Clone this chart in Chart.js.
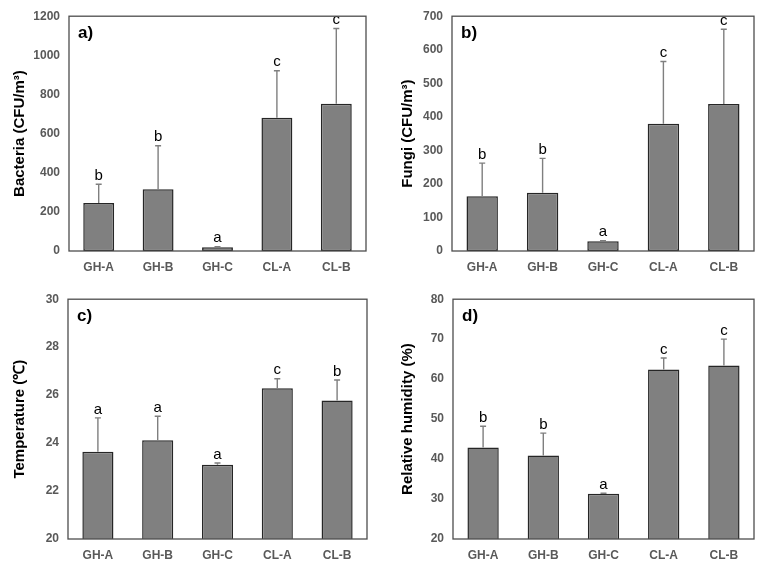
<!DOCTYPE html>
<html>
<head>
<meta charset="utf-8">
<script src="https://cdn.jsdelivr.net/npm/chart.js@4"></script>
<style>
  body { margin: 0; background: #fff; }
  .panel { position: absolute; width: 383px; height: 283px; }
</style>
</head>
<body>
<div class="panel" style="left:0;top:0"><canvas id="chartA"></canvas></div>
<div class="panel" style="left:383px;top:0"><canvas id="chartB"></canvas></div>
<div class="panel" style="left:0;top:283px"><canvas id="chartC"></canvas></div>
<div class="panel" style="left:383px;top:283px"><canvas id="chartD"></canvas></div>
<script>
const sites = ["GH-A", "GH-B", "GH-C", "CL-A", "CL-B"];

const bacteria = [245, 316, 19, 681, 753];
const bacteriaSd = [96, 222, 3, 240, 384];
const bacteriaLetters = ["b", "b", "a", "c", "c"];

const fungi = [163, 174, 29, 379, 438];
const fungiSd = [99, 102, 2, 186, 223];
const fungiLetters = ["b", "b", "a", "c", "c"];

const temperature = [23.64, 24.12, 23.10, 26.29, 25.78];
const temperatureSd = [1.41, 1.00, 0.07, 0.39, 0.85];
const temperatureLetters = ["a", "a", "a", "c", "b"];

const humidity = [42.9, 40.9, 31.35, 62.4, 63.4];
const humiditySd = [5.3, 5.6, 0.1, 2.9, 6.6];
const humidityLetters = ["b", "b", "a", "c", "c"];

const FONT = "'Liberation Sans', Arial, sans-serif";

// error bars (upper only), significance letters, frame and panel label
const decorPlugin = {
    id: "decor",
    afterDatasetsDraw(chart) {
        const ctx = chart.ctx;
        const o = chart.options.plugins.decor;
        const meta = chart.getDatasetMeta(0);
        const yScale = chart.scales.y;
        ctx.save();
        meta.data.forEach(function (bar, i) {
            const top = yScale.getPixelForValue(o.means[i] + o.sd[i]);
            ctx.strokeStyle = "#7f7f7f";
            ctx.lineWidth = 1.4;
            ctx.beginPath();
            ctx.moveTo(bar.x, bar.y);
            ctx.lineTo(bar.x, top);
            ctx.moveTo(bar.x - 3, top);
            ctx.lineTo(bar.x + 3, top);
            ctx.stroke();
            ctx.fillStyle = "#000";
            ctx.font = "15px " + FONT;
            ctx.textAlign = "center";
            ctx.textBaseline = "bottom";
            ctx.fillText(o.letters[i], bar.x, top - 1);
        });
        const a = chart.chartArea;
        ctx.strokeStyle = "#4d4d4d";
        ctx.lineWidth = 1.3;
        ctx.strokeRect(a.left, a.top, a.right - a.left, a.bottom - a.top);
        ctx.fillStyle = "#000";
        ctx.font = "bold 17px " + FONT;
        ctx.textAlign = "left";
        ctx.textBaseline = "middle";
        ctx.fillText(o.label, a.left + 9, a.top + 17);
        ctx.restore();
    },
};

function makePanel(id, opts) {
    const ctx = document.getElementById(id).getContext("2d");
    return new Chart(ctx, {
        type: "bar",
        data: {
            labels: sites,
            datasets: [
                {
                    data: opts.means,
                    backgroundColor: "#808080",
                    borderColor: "#262626",
                    borderWidth: 1.5,
                    borderSkipped: false,
                    barPercentage: 0.52,
                    categoryPercentage: 1,
                },
            ],
        },
        options: {
            responsive: true,
            maintainAspectRatio: false,
            animation: false,
            layout: { padding: { top: opts.top, right: 383 - opts.right, left: 0, bottom: 0 } },
            plugins: {
                legend: { display: false },
                tooltip: { enabled: false },
                decor: { means: opts.means, sd: opts.sd, letters: opts.letters, label: opts.label },
            },
            scales: {
                x: {
                    grid: { display: false, drawTicks: false },
                    border: { display: false },
                    ticks: { color: "#595959", font: { family: FONT, size: 12, weight: "bold" }, padding: 9 },
                    afterFit: function (s) { s.height = 283 - opts.bottom; },
                },
                y: {
                    min: opts.min,
                    max: opts.max,
                    grid: { display: false, drawTicks: false },
                    border: { display: false },
                    ticks: {
                        stepSize: opts.step,
                        color: "#595959",
                        font: { family: FONT, size: 12, weight: "bold" },
                        padding: 9,
                        callback: function (v) { return String(v); },
                    },
                    title: {
                        display: true,
                        text: opts.title,
                        color: "#000",
                        font: { family: FONT, size: 15, weight: "bold" },
                        padding: { top: opts.titlePad, bottom: 0 },
                    },
                    afterFit: function (s) { s.width = opts.left; },
                },
            },
        },
        plugins: [decorPlugin],
    });
}

makePanel("chartA", {
    means: bacteria, sd: bacteriaSd, letters: bacteriaLetters, label: "a)",
    title: "Bacteria (CFU/m³)", min: 0, max: 1200, step: 200,
    left: 69, right: 366, top: 13, bottom: 251, titlePad: 11,
});
makePanel("chartB", {
    means: fungi, sd: fungiSd, letters: fungiLetters, label: "b)",
    title: "Fungi (CFU/m³)", min: 0, max: 700, step: 100,
    left: 69, right: 371, top: 13, bottom: 251, titlePad: 16,
});
makePanel("chartC", {
    means: temperature, sd: temperatureSd, letters: temperatureLetters, label: "c)",
    title: "Temperature (℃)", min: 20, max: 30, step: 2,
    left: 68, right: 367, top: 14, bottom: 256, titlePad: 11,
});
makePanel("chartD", {
    means: humidity, sd: humiditySd, letters: humidityLetters, label: "d)",
    title: "Relative humidity (%)", min: 20, max: 80, step: 10,
    left: 70, right: 371, top: 14, bottom: 256, titlePad: 16,
});
</script>
</body>
</html>
